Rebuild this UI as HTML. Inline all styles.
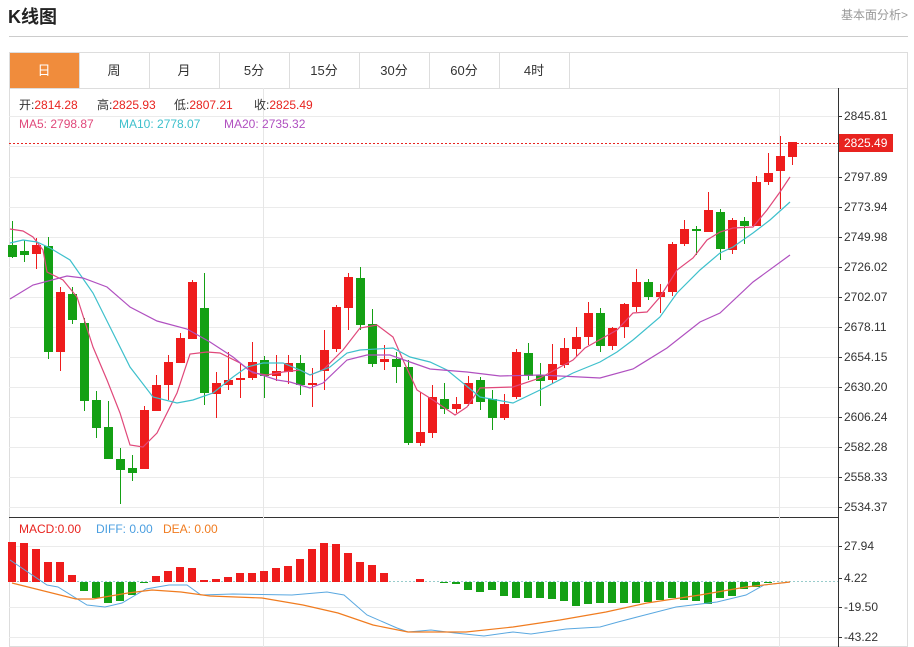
<!DOCTYPE html>
<html><head><meta charset="utf-8"><style>
html,body{margin:0;padding:0;background:#fff;width:914px;height:647px;overflow:hidden}
svg{display:block;font-family:"Liberation Sans","Noto Sans CJK SC",sans-serif}
</style></head><body>
<svg id="s" width="914" height="647" viewBox="0 0 914 647" xmlns="http://www.w3.org/2000/svg">
<text x="8" y="23" font-size="18" font-weight="bold" fill="#222">K线图</text>
<text x="908" y="19" font-size="12" fill="#999" text-anchor="end">基本面分析&gt;</text>
<line x1="9" y1="36.5" x2="908" y2="36.5" stroke="#ccc"/>
<rect x="9.5" y="52.5" width="898" height="594" fill="none" stroke="#ddd"/>
<line x1="9" y1="88.5" x2="908" y2="88.5" stroke="#ddd"/>
<rect x="10" y="53" width="69" height="35" fill="#f08c3c"/>
<g stroke="#ddd"><line x1="79.5" y1="53" x2="79.5" y2="88"/><line x1="149.5" y1="53" x2="149.5" y2="88"/><line x1="219.5" y1="53" x2="219.5" y2="88"/><line x1="289.5" y1="53" x2="289.5" y2="88"/><line x1="359.5" y1="53" x2="359.5" y2="88"/><line x1="429.5" y1="53" x2="429.5" y2="88"/><line x1="499.5" y1="53" x2="499.5" y2="88"/><line x1="569.5" y1="53" x2="569.5" y2="88"/></g>
<g font-size="13" text-anchor="middle" fill="#333">
<text x="44" y="75" fill="#fff">日</text><text x="114" y="75">周</text><text x="184" y="75">月</text><text x="254" y="75">5分</text><text x="324" y="75">15分</text><text x="394" y="75">30分</text><text x="464" y="75">60分</text><text x="534" y="75">4时</text></g>
<g id="grid"></g>
<line x1="838.5" y1="88" x2="838.5" y2="647" stroke="#333"/>
<line x1="9" y1="517.5" x2="838" y2="517.5" stroke="#333"/>
<line x1="263.5" y1="88" x2="263.5" y2="647" stroke="#e6e6e6"/>
<line x1="779.5" y1="88" x2="779.5" y2="647" stroke="#e6e6e6"/>
<g font-size="12">
<text x="19" y="109" fill="#333">开:<tspan fill="#e8231f">2814.28</tspan></text>
<text x="97" y="109" fill="#333">高:<tspan fill="#e8231f">2825.93</tspan></text>
<text x="174" y="109" fill="#333">低:<tspan fill="#e8231f">2807.21</tspan></text>
<text x="254" y="109" fill="#333">收:<tspan fill="#e8231f">2825.49</tspan></text>
<text x="19" y="128" fill="#e0487a">MA5: 2798.87</text>
<text x="119" y="128" fill="#3ec0cc">MA10: 2778.07</text>
<text x="224" y="128" fill="#b050c0">MA20: 2735.32</text>
<text x="19" y="533" fill="#e8231f">MACD:0.00</text>
<text x="96" y="533" fill="#4a9ee0">DIFF: 0.00</text>
<text x="163" y="533" fill="#f07c20">DEA: 0.00</text>
</g>
<g id="c"></g>
<line x1="9" y1="143.5" x2="838" y2="143.5" stroke="#e8231f" stroke-dasharray="2,2"/>
<rect x="839" y="134" width="54" height="18" fill="#e8231f"/>
<text x="844" y="147" font-size="12" fill="#fff">2825.49</text>
</svg>
<script>
var NS="http://www.w3.org/2000/svg",g=document.getElementById('grid'),c=document.getElementById('c');
function el(p,t,a){var e=document.createElementNS(NS,t);for(var k in a)e.setAttribute(k,a[k]);p.appendChild(e);return e}
var ticks=[[116,"2845.81"],[146,""],[177,"2797.89"],[207,"2773.94"],[237,"2749.98"],[267,"2726.02"],[297,"2702.07"],[327,"2678.11"],[357,"2654.15"],[387,"2630.20"],[417,"2606.24"],[447,"2582.28"],[477,"2558.33"],[507,"2534.37"]];
ticks.forEach(function(t){el(g,'line',{x1:9,x2:838,y1:t[0]+.5,y2:t[0]+.5,stroke:'#ebebeb'});el(g,'line',{x1:838,x2:842,y1:t[0]+.5,y2:t[0]+.5,stroke:'#333'});if(t[1]){var x=el(g,'text',{x:844,y:t[0]+4,'font-size':12,fill:'#333'});x.textContent=t[1];}});
[[546,"27.94"],[607,"-19.50"],[637,"-43.22"]].forEach(function(t){el(g,'line',{x1:9,x2:838,y1:t[0]+.5,y2:t[0]+.5,stroke:'#ebebeb'});el(g,'line',{x1:838,x2:842,y1:t[0]+.5,y2:t[0]+.5,stroke:'#333'});var x=el(g,'text',{x:844,y:t[0]+4,'font-size':12,fill:'#333'});x.textContent=t[1];});
el(g,'line',{x1:9,x2:838,y1:581.5,y2:581.5,stroke:'#9cc',"stroke-dasharray":"2,2"});
el(g,'line',{x1:838,x2:842,y1:578.5,y2:578.5,stroke:'#333'});
var z=el(g,'text',{x:844,y:582,'font-size':12,fill:'#333'});z.textContent="4.22";
var K=[[245,257,221,258,0],[251,255,240,262,0],[245,254,238,269,1],[246,352,237,359,0],[292,352,287,371,1],[294,320,287,324,0],[323,401,318,411,0],[400,428,391,438,0],[427,459,401,459,0],[459,470,448,504,0],[468,473,455,481,0],[410,469,406,469,1],[385,411,375,411,1],[362,385,355,400,1],[338,363,333,363,1],[282,339,280,339,1],[308,393,273,405,0],[383,394,372,418,1],[380,385,352,390,1],[378,380,364,398,1],[362,378,342,380,1],[360,376,356,398,0],[371,376,355,381,1],[363,372,355,384,1],[363,385,355,395,0],[383,385,368,407,1],[350,371,330,390,1],[307,349,305,352,1],[277,308,273,330,1],[278,325,267,330,0],[324,364,309,367,0],[359,362,345,370,1],[359,367,352,383,0],[367,443,360,445,0],[432,443,392,446,1],[397,433,385,438,1],[399,409,383,414,0],[404,409,397,413,1],[383,404,376,406,1],[380,402,377,410,0],[399,418,390,430,0],[404,418,394,420,1],[352,397,349,399,1],[353,376,343,380,0],[375,381,363,406,0],[364,380,344,383,1],[348,365,338,368,1],[337,349,327,356,1],[313,337,302,345,1],[313,346,308,352,0],[328,346,327,350,1],[304,327,303,338,1],[282,307,269,312,1],[282,297,279,300,0],[292,297,284,313,1],[244,292,242,296,1],[229,244,220,246,1],[229,231,226,255,0],[210,232,192,232,1],[212,249,209,260,0],[220,250,218,254,1],[221,226,217,244,0],[182,226,176,226,1],[173,182,153,185,1],[156,171,136,209,1],[142,157,142,165,1]];
var R='#ee1c1c',G='#14a014';
K.forEach(function(k,i){var x=12+12*i,col=k[4]?R:G;el(c,'line',{x1:x+.5,x2:x+.5,y1:k[2],y2:k[3],stroke:col});el(c,'rect',{x:x-4,y:k[0],width:9,height:Math.max(2,k[1]-k[0]),fill:col});});
function pl(pts,col,w){el(c,'polyline',{points:pts,fill:'none',stroke:col,'stroke-width':w||1.2});}
pl("10,229 23,231 33,237 43,250 47,272 63,280 77,297 93,347 107,380 120,413 130,445 143,447 157,433 177,393 190,354 207,352 220,353 240,363 253,373 267,375 283,372 300,370 310,375 323,370 343,350 360,328 377,325 393,337 403,360 417,390 433,400 455,415 467,407 480,388 513,387 540,378 573,360 585,348 617,330 633,313 647,312 660,297 677,270 693,258 707,240 720,232 733,228 753,227 767,210 780,192 790,177","#e0487a");
pl("10,243 23,240 37,242 50,248 70,260 93,293 110,327 130,367 153,397 177,403 193,400 213,393 233,377 247,367 263,363 283,363 300,370 310,375 330,367 347,353 360,350 393,348 410,357 430,362 447,370 480,397 513,403 540,390 573,373 600,362 617,352 633,340 660,317 677,293 700,270 720,253 733,247 753,233 770,220 790,202","#3ec0cc");
pl("10,299 33,285 67,276 83,278 107,287 130,307 157,321 187,329 210,342 233,357 250,371 277,380 290,382 310,388 323,383 347,360 367,355 390,355 410,362 430,369 467,372 500,376 540,375 600,378 633,369 667,348 700,322 720,313 753,282 790,255","#b050c0");
var M=[542,543,549,562,562,575,591,598,603,601,595,583,576,571,567,568,580,579,577,573,573,571,568,566,559,549,543,544,553,562,565,573,582,581,579,582,583,584,590,592,590,596,598,598,598,599,601,606,604,603,603,603,603,602,600,598,600,601,604,598,596,589,587,583,582,582];
M.forEach(function(v,i){var x=12+12*i-4;if(v<581){el(c,'rect',{x:x,y:v,width:8,height:582-v,fill:R});}else if(v>582){el(c,'rect',{x:x,y:582,width:8,height:v-582,fill:G});}});
pl("10,560 47,585 58,587 87,605 105,607 122,603 146,589 169,585 187,585 201,595 233,594 292,595 327,592 344,595 367,615 397,628 408,632 431,630 455,633 484,636 513,632 531,634 566,629 600,627 618,622 641,616 676,607 717,602 746,595 764,585 790,582","#5aa8e0",1);
pl("12,583 76,599 93,599 128,593 152,590 181,592 210,596 262,598 303,605 338,613 373,625 408,632 466,632 513,627 560,620 606,612 647,603 700,595 746,587 790,582","#f07c20",1.2);
</script>
</body></html>
